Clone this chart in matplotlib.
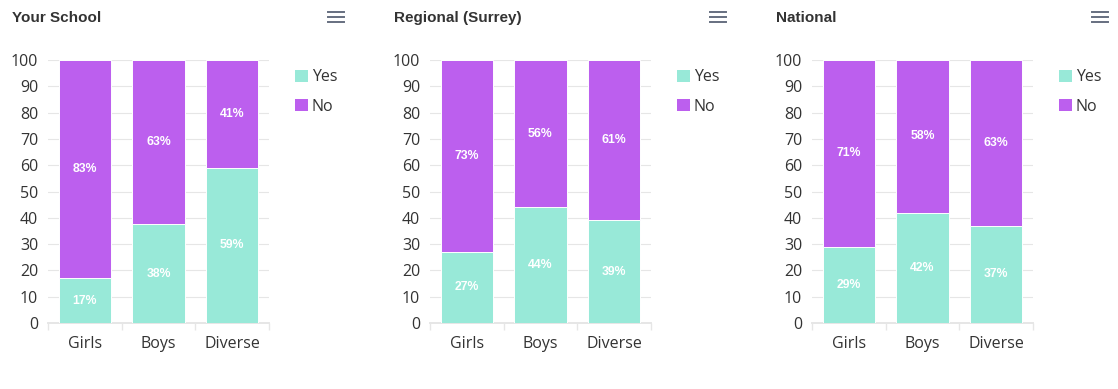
import numpy as np
import matplotlib.pyplot as plt
from matplotlib.patches import Patch
from matplotlib.lines import Line2D

categories = ['Girls', 'Boys', 'Diverse']
panel_titles = ['Your School', 'Regional (Surrey)', 'National']
yes_values = [[17, 38, 59], [27, 44, 39], [29, 42, 37]]
no_values = [[83, 63, 41], [73, 56, 61], [71, 58, 63]]
y_ticks = [0, 10, 20, 30, 40, 50, 60, 70, 80, 90, 100]

YES_COLOR = '#98e9d8'
NO_COLOR = '#bc5fee'
TEXT_COLOR = '#333333'
GRID_COLOR = '#e6e6e6'

W, H = 1118, 389
fig = plt.figure(figsize=(W / 100, H / 100), dpi=100)
tick_font = 'Open Sans'
label_font = 'Liberation Sans'

panel_left = [48, 430, 812]
plot_w = 221
plot_top, plot_bottom = 60, 323

x = np.arange(len(categories))

for i in range(3):
    left = panel_left[i]
    ax = fig.add_axes([left / W, 1 - plot_bottom / H, plot_w / W, (plot_bottom - plot_top) / H])

    yes = np.array(yes_values[i], dtype=float)
    no = np.array(no_values[i], dtype=float)
    total = yes + no
    # percent stacking, like the original chart
    yes_pct = yes / total * 100
    no_pct = no / total * 100

    ax.bar(x, yes_pct, width=0.71, color=YES_COLOR, edgecolor='white', linewidth=0.7, zorder=3)
    ax.bar(x, no_pct, width=0.71, bottom=yes_pct, color=NO_COLOR, edgecolor='white', linewidth=0.7, zorder=3)

    for xi, yv, nv, yp, npct in zip(x, yes, no, yes_pct, no_pct):
        ax.text(xi, yp / 2, f'{int(yv)}%', ha='center', va='center', color='white',
                fontsize=8.8, fontweight='bold', family=label_font, zorder=4)
        ax.text(xi, yp + npct / 2, f'{int(nv)}%', ha='center', va='center', color='white',
                fontsize=8.8, fontweight='bold', family=label_font, zorder=4)

    ax.set_xlim(-0.5, len(categories) - 0.5)
    ax.set_ylim(0, 100)
    ax.set_yticks(y_ticks)
    ax.set_yticklabels([str(t) for t in y_ticks], family=tick_font, fontsize=11.5, color=TEXT_COLOR)
    ax.set_xticks(x)
    ax.set_xticklabels(categories, family=tick_font, fontsize=11.5, color=TEXT_COLOR)
    ax.set_xticks(np.arange(-0.5, len(categories), 1), minor=True)
    ax.tick_params(axis='y', length=0, pad=7)
    ax.tick_params(axis='x', which='major', length=0, pad=9)
    ax.tick_params(axis='x', which='minor', length=5, width=1, color=GRID_COLOR)

    ax.grid(axis='y', color=GRID_COLOR, linewidth=0.8, zorder=0)
    for side in ['top', 'left', 'right']:
        ax.spines[side].set_visible(False)
    ax.spines['bottom'].set_color(GRID_COLOR)
    ax.spines['bottom'].set_linewidth(1.4)

    handles = [Patch(facecolor=YES_COLOR, label='Yes'), Patch(facecolor=NO_COLOR, label='No')]
    leg = ax.legend(handles=handles, loc='upper left', bbox_to_anchor=((295 - 48) / plot_w, 0.965),
                    frameon=False, borderpad=0, borderaxespad=0, handlelength=0.8, handleheight=0.8,
                    handletextpad=0.25, labelspacing=0.85, prop={'family': tick_font, 'size': 11.5})
    for t in leg.get_texts():
        t.set_color(TEXT_COLOR)

    # title
    fig.text((12 + left - 48) / W, 1 - 18 / H, panel_titles[i], ha='left', va='center',
             fontsize=11, fontweight='bold', family=label_font, color=TEXT_COLOR)

    # menu icon
    cx = 336 + left - 48
    for yy in [12, 17, 22]:
        fig.add_artist(Line2D([(cx - 8) / W, (cx + 8) / W], [1 - yy / H, 1 - yy / H],
                              color='#666f80', linewidth=1.4))

fig.savefig('out.png', dpi=100, facecolor='white')
